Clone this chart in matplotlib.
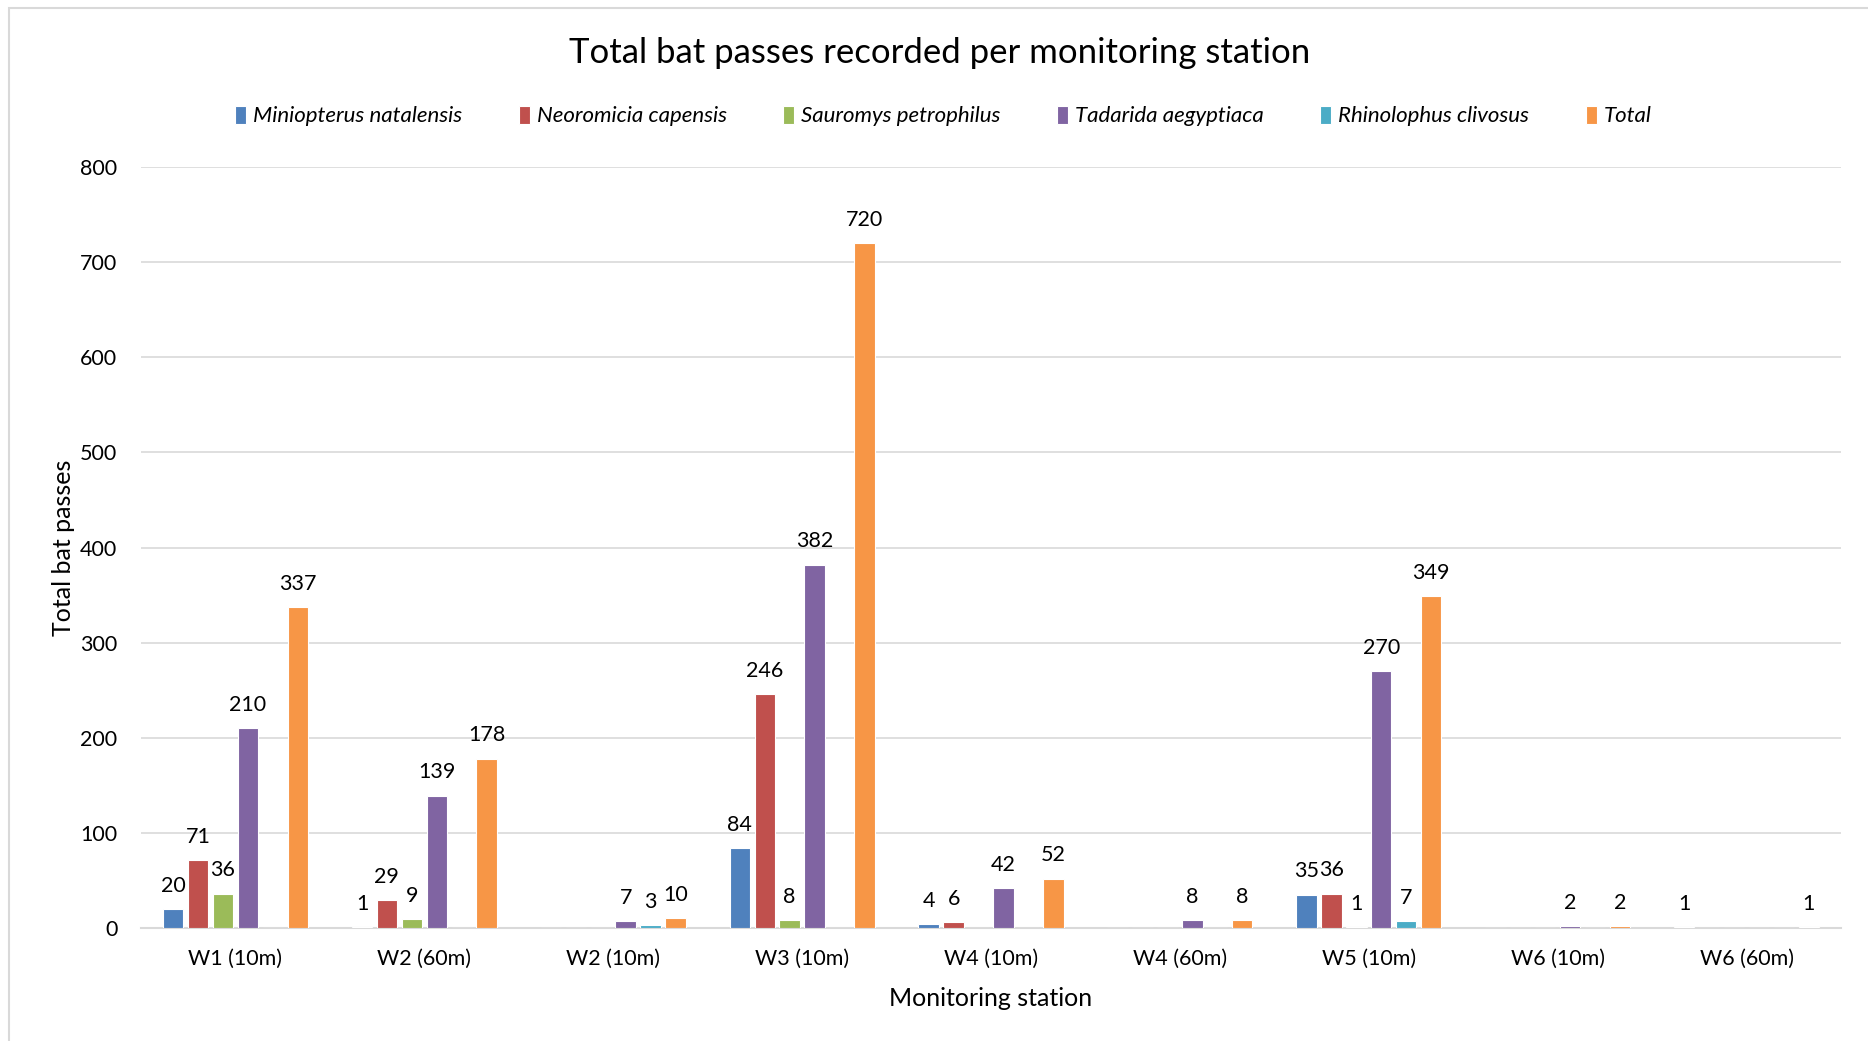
import numpy as np
import matplotlib
matplotlib.use('Agg')
import matplotlib.pyplot as plt
from matplotlib.patches import Rectangle

plt.rcParams['font.family'] = ['Lato', 'DejaVu Sans']

# ---- data ----
stations = ['W1 (10m)', 'W2 (60m)', 'W2 (10m)', 'W3 (10m)', 'W4 (10m)',
            'W4 (60m)', 'W5 (10m)', 'W6 (10m)', 'W6 (60m)']
species = ['Miniopterus natalensis', 'Neoromicia capensis', 'Sauromys petrophilus',
           'Tadarida aegyptiaca', 'Rhinolophus clivosus', 'Total']
nan = np.nan
miniopterus = [20, 1, nan, 84, 4, nan, 35, nan, 1]
neoromicia  = [71, 29, nan, 246, 6, nan, 36, nan, nan]
sauromys    = [36, 9, nan, 8, nan, nan, 1, nan, nan]
tadarida    = [210, 139, 7, 382, 42, 8, 270, 2, nan]
rhinolophus = [nan, nan, 3, nan, nan, nan, 7, nan, nan]
total       = [337, 178, 10, 720, 52, 8, 349, 2, 1]
series = [miniopterus, neoromicia, sauromys, tadarida, rhinolophus, total]
colors = ['#4F81BD', '#C0504D', '#9BBB59', '#8064A2', '#4BACC6', '#F79646']

# ---- figure ----
fig = plt.figure(figsize=(18.68, 10.41), dpi=100)
fig.patch.set_facecolor('white')
ax = fig.add_axes([141/1868, 1 - 928/1041, 1700/1868, (928-167)/1041])

x = np.arange(len(stations))
step = 0.132
width = 0.108
for i, (vals, name, col) in enumerate(zip(series, species, colors)):
    pos = x + (i - 2.5) * step
    v = np.array(vals, dtype=float)
    ax.bar(pos, np.nan_to_num(v), width, color=col, label=name,
           edgecolor='white', linewidth=0.8, zorder=3)
    for p, val in zip(pos, v):
        if not np.isnan(val):
            ax.text(p, val + 14, f'{int(val)}', ha='center', va='bottom',
                    fontsize=15.5, color='black')

ax.set_xlim(-0.5, len(stations) - 0.5)
ax.set_ylim(0, 800)
ax.set_yticks(np.arange(0, 801, 100))
ax.set_xticks(x)
ax.set_xticklabels(stations)
ax.tick_params(axis='both', length=0, labelsize=15.5, colors='black')
ax.tick_params(axis='x', pad=15)
ax.tick_params(axis='y', pad=17)
ax.grid(axis='y', color='#D9D9D9', linewidth=1.2, zorder=0)
for s in ['top', 'right', 'left']:
    ax.spines[s].set_visible(False)
ax.spines['bottom'].set_color('#D9D9D9')
ax.spines['bottom'].set_linewidth(1.5)

ax.set_xlabel('Monitoring station', fontsize=18, labelpad=13)
ax.set_ylabel('Total bat passes', fontsize=18, labelpad=4)

fig.text(0.503, 1 - 53/1041, 'Total bat passes recorded per monitoring station',
         ha='center', va='center', fontsize=25)

fig.legend(loc='center', bbox_to_anchor=(0.505, 1 - 116/1041), ncol=6,
           frameon=False, prop={'size': 16, 'style': 'italic'},
           handlelength=0.5, handleheight=0.9, handletextpad=0.3,
           columnspacing=2.55)

# chart area border
fig.add_artist(Rectangle((9/1868, -0.01), 1.1, 1 - 8/1041 + 0.01,
                         transform=fig.transFigure, fill=False,
                         edgecolor='#D9D9D9', linewidth=1.5))

fig.savefig('out.png', dpi=100, facecolor='white')
